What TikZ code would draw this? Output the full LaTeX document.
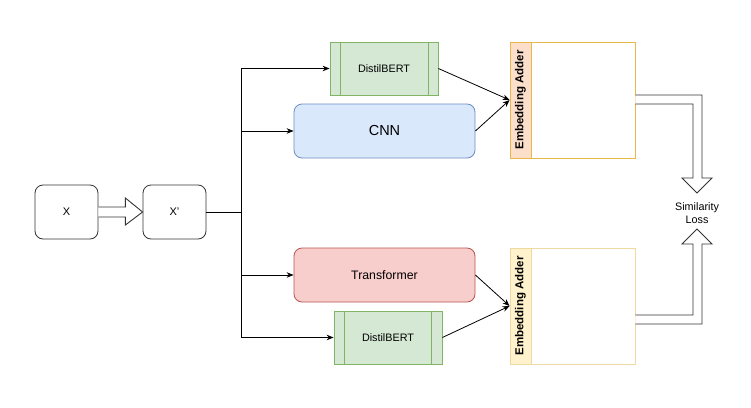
\documentclass[tikz,border=0pt]{standalone}
\usepackage{fontspec}
\setmainfont{Liberation Sans}
\usetikzlibrary{calc,arrows.meta}
\definecolor{greenfill}{HTML}{D5E8D4}
\definecolor{greenline}{HTML}{82B366}
\definecolor{bluefill}{HTML}{DAE8FC}
\definecolor{blueline}{HTML}{6C8EBF}
\definecolor{redfill}{HTML}{F8CECC}
\definecolor{redline}{HTML}{B85450}
\definecolor{peachfill}{HTML}{FCDFCB}
\definecolor{goldline}{HTML}{E8B84A}
\definecolor{yellowfill}{HTML}{FFF2CC}
\definecolor{paleline}{HTML}{EED9A0}
\definecolor{darkline}{HTML}{333333}
\tikzset{
  inbox/.style={draw=darkline, line width=0.8pt, rounded corners=8pt, minimum width=63pt, minimum height=54pt, inner sep=0pt, font=\fontsize{11}{13}\selectfont},
  procbox/.style={draw=greenline, fill=greenfill, line width=0.8pt, minimum width=108pt, minimum height=53pt, inner sep=0pt, font=\fontsize{10.8}{12}\selectfont},
  modelbox/.style={rounded corners=8pt, line width=0.8pt, minimum width=181pt, minimum height=54pt, inner sep=0pt},
  adderbody/.style={line width=0.8pt, minimum width=125pt, minimum height=116pt, inner sep=0pt},
  adderstrip/.style={line width=0.8pt, minimum width=21pt, minimum height=116pt, inner sep=0pt},
  addertext/.style={rotate=90, font=\bfseries\fontsize{11.5}{13}\selectfont, inner sep=0pt},
  conn/.style={draw=black, line width=0.8pt},
  arr/.style={conn, -{Stealth[length=7pt,width=5.5pt]}},
  hollow/.style={draw=darkline, line width=0.9pt, fill=white, line join=miter},
}
\begin{document}
\begin{tikzpicture}[x=1pt,y=-1pt]
\useasboundingbox (0,0) rectangle (751,407);
% input boxes
\node[inbox] (x) at (66.5,212) {X};
\node[inbox] (xp) at (174.5,212) {X'};
% hollow arrow X -> X'
\draw[hollow] ($(x.east)+(0,-5)$) -- ($(x.east)+(27,-5)$) -- ($(x.east)+(27,-14)$) -- (xp.west) -- ($(x.east)+(27,13)$) -- ($(x.east)+(27,5)$) -- ($(x.east)+(0,5)$);
% models
\node[procbox] (d1) at (384,68.5) {DistilBERT};
\draw[greenline, line width=0.8pt] ($(d1.north west)+(11,0)$) -- ($(d1.south west)+(11,0)$);
\draw[greenline, line width=0.8pt] ($(d1.north east)+(-10,0)$) -- ($(d1.south east)+(-10,0)$);
\node[modelbox, draw=blueline, fill=bluefill, font=\fontsize{14.5}{16}\selectfont] (cnn) at (384.5,131) {CNN};
\node[modelbox, draw=redline, fill=redfill, font=\fontsize{12.3}{14}\selectfont] (tr) at (384.5,275) {Transformer};
\node[procbox] (d2) at (388,337.5) {DistilBERT};
\draw[greenline, line width=0.8pt] ($(d2.north west)+(11,0)$) -- ($(d2.south west)+(11,0)$);
\draw[greenline, line width=0.8pt] ($(d2.north east)+(-11,0)$) -- ($(d2.south east)+(-11,0)$);
% bus
\coordinate (bus) at (241,212);
\draw[conn] (xp.east) -- (bus);
\draw[conn] (bus |- d1.west) -- (bus |- d2.west);
\draw[arr] (bus |- d1.west) -- (d1.west);
\draw[arr] (bus |- cnn.west) -- (cnn.west);
\draw[arr] (bus |- tr.west) -- (tr.west);
\draw[arr] (bus |- d2.west) -- (d2.west);
% adders
\node[adderbody, draw=goldline, fill=white] (a1) at (572.5,100) {};
\node[adderstrip, draw=goldline, fill=peachfill] (s1) at (520.5,100) {};
\node[addertext] (t1) at (s1.center) {Embedding Adder};
\node[adderbody, draw=paleline, fill=white] (a2) at (572.5,306) {};
\node[adderstrip, draw=paleline, fill=yellowfill] (s2) at (520.5,306) {};
\node[addertext] (t2) at (s2.center) {Embedding Adder};
% converging arrows
\draw[arr] (d1.east) -- (s1.west);
\draw[arr] (cnn.east) -- (s1.west);
\draw[arr] (tr.east) -- (s2.west);
\draw[arr] (d2.east) -- (s2.west);
% loss
\node[align=center, font=\fontsize{10.8}{13}\selectfont, inner sep=1pt] (loss) at (697,213) {Similarity\\Loss};
% hollow output arrows
\draw[hollow] ($(a1.east)+(0,-5)$) -- (702,95) -- (702,178) -- (712,178) -- (697,193) -- (682,178) -- (693,178) -- (693,104) -- ($(a1.east)+(0,4)$);
\draw[hollow] (a2.east |- 0,324) -- (702,324) -- (702,244) -- (712,244) -- (697,229) -- (682,244) -- (693,244) -- (693,315) -- (a2.east |- 0,315);
\end{tikzpicture}
\end{document}
